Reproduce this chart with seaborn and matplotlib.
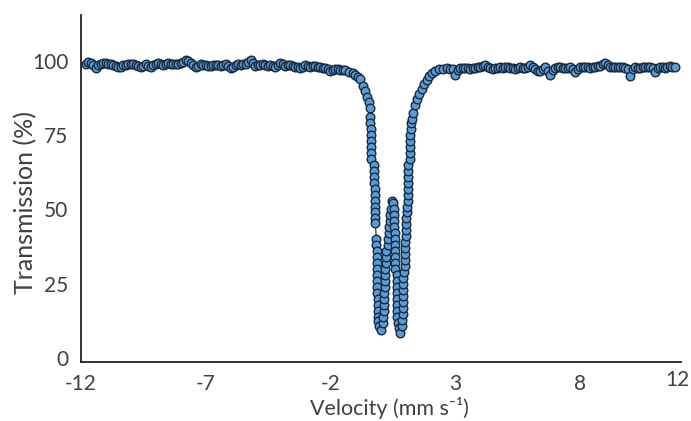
import matplotlib
matplotlib.use("Agg")
from matplotlib import pyplot as plt
from matplotlib.transforms import ScaledTranslation
import seaborn as sns
import pandas as pd

# baseline left of the doublet
left_v = [-11.8, -11.7, -11.6, -11.5, -11.4, -11.3, -11.2, -11.1, -11.0, -10.9,
          -10.8, -10.7, -10.6, -10.5, -10.4, -10.3, -10.2, -10.1, -10.0, -9.9,
          -9.8, -9.7, -9.6, -9.5, -9.4, -9.3, -9.2, -9.1, -9.0, -8.9,
          -8.8, -8.7, -8.6, -8.5, -8.4, -8.3, -8.2, -8.1, -8.0, -7.9,
          -7.8, -7.7, -7.6, -7.5, -7.4, -7.3, -7.2, -7.1, -7.0, -6.9,
          -6.8, -6.7, -6.6, -6.5, -6.4, -6.3, -6.2, -6.1, -6.0, -5.9,
          -5.8, -5.7, -5.6, -5.5, -5.4, -5.3, -5.2, -5.1, -5.0, -4.9,
          -4.8, -4.7, -4.6, -4.5, -4.4, -4.3, -4.2, -4.1, -4.0, -3.9,
          -3.8, -3.7, -3.6, -3.5, -3.4, -3.3, -3.2, -3.1, -3.0, -2.9,
          -2.8, -2.7, -2.6, -2.5, -2.4, -2.3, -2.2, -2.1, -2.0, -1.9,
          -1.8, -1.7, -1.6, -1.5]
left_t = [99.0, 99.4, 99.2, 98.6, 97.6, 98.4, 98.9, 99.3, 99.1, 98.7,
          98.8, 98.5, 98.2, 97.9, 98.0, 98.4, 98.6, 98.9, 99.0, 98.8,
          98.4, 98.1, 97.8, 98.2, 98.7, 98.3, 97.9, 98.5, 98.9, 99.1,
          98.7, 98.6, 98.9, 99.1, 98.8, 98.9, 99.0, 98.8, 99.2, 99.6,
          100.2, 99.8, 99.3, 98.5, 97.8, 98.3, 98.7, 98.6, 98.4, 98.1,
          98.3, 98.6, 98.5, 98.4, 98.2, 98.5, 98.7, 98.2, 97.6, 98.0,
          98.5, 98.8, 98.6, 98.7, 99.0, 99.5, 100.1, 99.2, 98.3, 98.6,
          98.5, 98.7, 98.4, 98.3, 98.6, 98.2, 97.7, 98.4, 99.1, 98.7,
          98.2, 98.4, 98.5, 98.3, 98.0, 97.9, 97.6, 98.0, 98.4, 98.2,
          97.9, 98.1, 98.2, 97.9, 97.8, 97.6, 97.5, 97.1, 96.6, 96.9,
          97.2, 97.0, 96.8, 96.9]

# the quadrupole doublet
dip_v = [-1.40, -1.25, -1.10, -1.00, -0.90, -0.82, -0.70, -0.60, -0.52, -0.47, -0.43,
         -0.40, -0.40, -0.39, -0.39, -0.38, -0.38, -0.37, -0.37,
         -0.25, -0.25, -0.24, -0.24, -0.23, -0.23, -0.22, -0.22, -0.21, -0.21, -0.20,
         -0.16, -0.16, -0.15, -0.15, -0.14, -0.14, -0.13, -0.13, -0.12, -0.12,
         -0.11, -0.11, -0.10, -0.10, -0.09,
         -0.04, 0.01,
         0.11, 0.12, 0.13, 0.14, 0.15, 0.16, 0.17, 0.18, 0.19, 0.20, 0.21, 0.22, 0.23,
         0.30, 0.32, 0.34, 0.36, 0.38, 0.40, 0.42,
         0.45, 0.50,
         0.55, 0.55, 0.56, 0.56, 0.57, 0.57, 0.58, 0.58, 0.59, 0.59, 0.60,
         0.65, 0.65, 0.66, 0.66, 0.67, 0.67, 0.68, 0.68, 0.69,
         0.74, 0.78,
         0.87, 0.88, 0.89, 0.89, 0.90, 0.90, 0.91, 0.91, 0.92, 0.93,
         0.98, 0.99, 0.99, 1.00, 1.00, 1.01, 1.01, 1.02, 1.03,
         1.08, 1.08, 1.09, 1.09, 1.10, 1.10, 1.11, 1.11, 1.12,
         1.18, 1.18, 1.19, 1.19, 1.20, 1.21, 1.22,
         1.25, 1.30, 1.38, 1.47, 1.56, 1.66, 1.76, 1.86, 1.96, 2.08, 2.20, 2.35, 2.50, 2.65]
dip_t = [96.7, 96.3, 95.8, 95.2, 94.6, 93.9, 91.6, 89.8, 87.8, 86.0, 84.2,
         81, 79, 77, 75, 73, 71, 69, 67,
         65, 63, 61, 59, 57, 55, 53, 51, 49, 47, 45.5,
         40, 38, 36, 34, 32, 30, 28, 26, 24, 22,
         20, 18, 16, 14, 12.5,
         10.8, 9.7,
         12, 14, 16, 18, 20, 22, 24, 26, 28, 30, 32, 34, 36,
         38, 40, 42, 44, 46, 48, 50,
         52.8, 52.2,
         50, 48, 46, 44, 42, 40, 38, 36, 34, 32, 30,
         28, 26, 24, 22, 20, 18, 16, 14, 12,
         10.2, 8.6,
         11, 13, 15, 17, 19, 21, 23, 25, 27, 29,
         31, 33, 35, 37, 39, 41, 43, 45, 47,
         49, 51, 53, 55, 57, 59, 61, 63, 65,
         67, 69, 71, 73, 75, 77, 79,
         80.5, 82.5, 85.0, 87.0, 88.8, 90.5, 92.0, 93.5, 94.8, 95.9, 96.6, 97.0, 97.3, 97.4]

# baseline right of the doublet
right_v = [2.8, 2.9, 3.0, 3.1, 3.2, 3.3, 3.4, 3.5, 3.6, 3.7,
           3.8, 3.9, 4.0, 4.1, 4.2, 4.3, 4.4, 4.5, 4.6, 4.7,
           4.8, 4.9, 5.0, 5.1, 5.2, 5.3, 5.4, 5.5, 5.6, 5.7,
           5.8, 5.9, 6.0, 6.1, 6.2, 6.3, 6.4, 6.5, 6.6, 6.7,
           6.8, 6.9, 7.0, 7.1, 7.2, 7.3, 7.4, 7.5, 7.6, 7.7,
           7.8, 7.9, 8.0, 8.1, 8.2, 8.3, 8.4, 8.5, 8.6, 8.7,
           8.8, 8.9, 9.0, 9.1, 9.2, 9.3, 9.4, 9.5, 9.6, 9.7,
           9.8, 9.9, 10.0, 10.1, 10.2, 10.3, 10.4, 10.5, 10.6, 10.7,
           10.8, 10.9, 11.0, 11.1, 11.2, 11.3, 11.4, 11.5, 11.6, 11.7,
           11.8]
right_t = [97.3, 97.1, 95.3, 96.8, 97.4, 97.5, 97.6, 97.4, 97.3, 97.6,
           97.5, 97.7, 97.8, 98.3, 98.6, 97.9, 97.6, 97.3, 97.4, 97.6,
           97.7, 97.5, 97.9, 97.7, 97.5, 97.4, 97.2, 97.6, 97.8, 97.5,
           97.6, 98.0, 98.4, 97.8, 97.1, 96.6, 96.4, 97.2, 97.7, 96.5,
           95.3, 96.9, 97.5, 97.8, 97.9, 97.6, 97.4, 97.5, 97.8, 97.1,
           96.3, 97.2, 97.7, 97.9, 98.0, 97.8, 97.6, 97.8, 97.9, 98.1,
           98.2, 98.8, 99.3, 98.5, 98.0, 97.8, 97.7, 97.9, 97.9, 97.7,
           97.6, 97.3, 94.9, 97.0, 97.8, 97.6, 97.5, 97.8, 98.0, 97.8,
           97.7, 97.4, 96.3, 97.5, 97.9, 97.8, 97.6, 97.9, 98.1, 98.0,
           97.9]

x_ticks = [-12, -7, -2, 3, 8, 12]
y_ticks = [0, 25, 50, 75, 100]

sns.set_style("white")
plt.rcParams["font.family"] = ["Lato", "DejaVu Sans"]
plt.rcParams["axes.unicode_minus"] = False

df = pd.DataFrame({"velocity": left_v + dip_v + right_v,
                   "transmission": left_t + dip_t + right_t})

fig = plt.figure(figsize=(6.91, 4.21), dpi=100)
ax = fig.add_axes([0.1168, 0.1409, 0.8687, 0.8235])

sns.lineplot(data=df, x="velocity", y="transmission", sort=False, estimator=None,
             ax=ax, color="#1b1b1b", linewidth=0.8, marker="o", markersize=6.2,
             markerfacecolor="#5b9bd5", markeredgecolor="#1a2a3d", markeredgewidth=1.0)

ax.set_xlim(-12, 12.04)
ax.set_ylim(-1.1, 115.3)
ax.set_xticks(x_ticks)
ax.set_yticks(y_ticks)
ax.tick_params(direction="in", length=7, width=1.2, color="#222222",
               labelsize=15, labelcolor="#404040", pad=9)
for side in ["top", "right"]:
    ax.spines[side].set_visible(False)
for side in ["left", "bottom"]:
    ax.spines[side].set_color("#222222")
    ax.spines[side].set_linewidth(1.3)

# no tick marks at the far ends
ax.xaxis.get_major_ticks()[-1].tick1line.set_visible(False)
ax.yaxis.get_major_ticks()[0].tick1line.set_visible(False)
lab = ax.get_xticklabels()[-1]
lab.set_transform(lab.get_transform() + ScaledTranslation(-2 / 72, 3 / 72, fig.dpi_scale_trans))

ax.set_xlabel("Velocity (mm s⁻¹)", fontsize=15.5, color="#404040")
ax.set_ylabel("Transmission (%)", fontsize=18, color="#404040")
ax.xaxis.set_label_coords(0.515, -0.103)
ax.yaxis.set_label_coords(-0.073, 0.458)

fig.savefig("out.png", dpi=100)
